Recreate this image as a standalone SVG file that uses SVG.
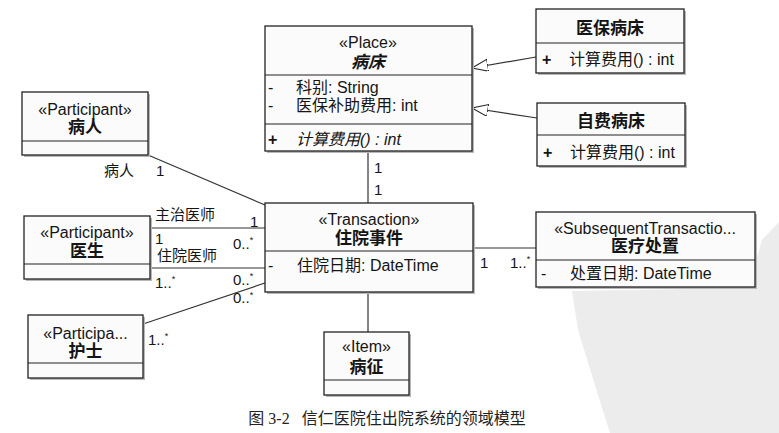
<svg xmlns="http://www.w3.org/2000/svg" width="779" height="433" viewBox="0 0 779 433">
<style>
.bg{fill:#ffffff}
.box{fill:#fbfbfb;stroke:#222;stroke-width:1.3}
.sh{fill:#b8b8b8}
.div{stroke:#222;stroke-width:1.2}
.ln{stroke:#333;stroke-width:1.2;fill:none}
.t{font-family:"Liberation Sans","Noto Sans CJK SC",sans-serif;font-size:16px;fill:#151515}
.c{text-anchor:middle}
.b{font-weight:bold;font-size:17px}
.i{font-style:italic}
.m{font-size:15px}
.star{font-size:9px}
.cap{font-family:"Liberation Serif","Noto Sans CJK SC",serif;font-size:16px;fill:#222;text-anchor:middle}
</style>
<defs>
<marker id="gen" markerUnits="userSpaceOnUse" markerWidth="18" markerHeight="14" refX="16" refY="6" orient="auto">
<path d="M0,0 L16,6 L0,12 Z" fill="#fff" stroke="#222" stroke-width="1.1"/>
</marker>
</defs>
<rect class="bg" x="0" y="0" width="779" height="433"/>
<path d="M779,222 L762,240 L748,288 L572,291 L578,330 L598,395 L610,433 L779,433 Z" fill="#ececec"/>

<g id="connectors">
<line class="ln" x1="148" y1="155" x2="265" y2="205"/>
<line class="ln" x1="368" y1="151" x2="368" y2="203"/>
<line class="ln" x1="150" y1="228" x2="265" y2="228"/>
<line class="ln" x1="150" y1="268" x2="265" y2="268"/>
<line class="ln" x1="143" y1="324" x2="265" y2="283"/>
<line class="ln" x1="473" y1="248" x2="536" y2="248"/>
<line class="ln" x1="368" y1="292" x2="368" y2="332"/>
<line class="ln" x1="536" y1="57" x2="472" y2="68" marker-end="url(#gen)"/>
<line class="ln" x1="537" y1="118" x2="472" y2="108" marker-end="url(#gen)"/>
<text class="t m" x="104" y="176">病人</text>
<text class="t m" x="156" y="176">1</text>
<text class="t m" x="374" y="173">1</text>
<text class="t m" x="374" y="195">1</text>
<text class="t m" x="155" y="220">主治医师</text>
<text class="t m" x="250" y="227">1</text>
<text class="t m" x="155" y="244">1</text>
<text class="t m" x="233" y="249">0..<tspan class="star" dy="-6">*</tspan></text>
<text class="t m" x="157" y="261">住院医师</text>
<text class="t m" x="155" y="288">1..<tspan class="star" dy="-6">*</tspan></text>
<text class="t m" x="233" y="285">0..<tspan class="star" dy="-6">*</tspan></text>
<text class="t m" x="233" y="303">0..<tspan class="star" dy="-5">*</tspan></text>
<text class="t m" x="148" y="345">1..<tspan class="star" dy="-6">*</tspan></text>
<text class="t m" x="480" y="268">1</text>
<text class="t m" x="510" y="268">1..<tspan class="star" dy="-6">*</tspan></text>
</g>

<g id="patient">
<rect class="sh" x="24" y="94" width="126" height="63"/>
<rect class="box" x="22" y="92" width="126" height="63"/>
<line class="div" x1="22" y1="141" x2="148" y2="141"/>
<text class="t c" x="85" y="115">«Participant»</text>
<text class="t c b" x="85" y="133">病人</text>
</g>

<g id="doctor">
<rect class="sh" x="26" y="218" width="126" height="63"/>
<rect class="box" x="24" y="216" width="126" height="63"/>
<line class="div" x1="24" y1="264" x2="150" y2="264"/>
<text class="t c" x="87" y="238">«Participant»</text>
<text class="t c b" x="87" y="257">医生</text>
</g>

<g id="nurse">
<rect class="sh" x="30" y="317" width="115" height="63"/>
<rect class="box" x="28" y="315" width="115" height="63"/>
<line class="div" x1="28" y1="363" x2="143" y2="363"/>
<text class="t c" x="85.5" y="339">«Participa...</text>
<text class="t c b" x="85.5" y="357">护士</text>
</g>

<g id="bed">
<rect class="sh" x="267" y="28" width="207" height="125"/>
<rect class="box" x="265" y="26" width="207" height="125"/>
<line class="div" x1="265" y1="75" x2="472" y2="75"/>
<line class="div" x1="265" y1="124" x2="472" y2="124"/>
<text class="t c" x="368" y="48">«Place»</text>
<text class="t c b i" x="368" y="68">病床</text>
<text class="t" x="268" y="93">-</text>
<text class="t" x="296" y="93">科别: String</text>
<text class="t" x="268" y="111">-</text>
<text class="t" x="296" y="111">医保补助费用: int</text>
<text class="t" x="268" y="145" font-weight="bold">+</text>
<text class="t i" x="296" y="145">计算费用() : int</text>
</g>

<g id="insuredBed">
<rect class="sh" x="538" y="11" width="148" height="64"/>
<rect class="box" x="536" y="9" width="148" height="64"/>
<line class="div" x1="536" y1="43" x2="684" y2="43"/>
<text class="t c b" x="610" y="34">医保病床</text>
<text class="t" x="542" y="65" font-weight="bold">+</text>
<text class="t" x="569" y="65">计算费用() : int</text>
</g>

<g id="selfPaidBed">
<rect class="sh" x="539" y="105" width="148" height="63"/>
<rect class="box" x="537" y="103" width="148" height="63"/>
<line class="div" x1="537" y1="135" x2="685" y2="135"/>
<text class="t c b" x="611" y="127">自费病床</text>
<text class="t" x="543" y="158" font-weight="bold">+</text>
<text class="t" x="570" y="158">计算费用() : int</text>
</g>

<g id="admission">
<rect class="sh" x="267" y="205" width="208" height="89"/>
<rect class="box" x="265" y="203" width="208" height="89"/>
<line class="div" x1="265" y1="251" x2="473" y2="251"/>
<text class="t c" x="369" y="225">«Transaction»</text>
<text class="t c b" x="369" y="244">住院事件</text>
<text class="t" x="268" y="271">-</text>
<text class="t" x="297" y="271">住院日期: DateTime</text>
</g>

<g id="treatment">
<rect class="sh" x="538" y="214" width="219" height="75"/>
<rect class="box" x="536" y="212" width="219" height="75"/>
<line class="div" x1="536" y1="260" x2="755" y2="260"/>
<text class="t c" x="645" y="234">«SubsequentTransactio...</text>
<text class="t c b" x="645" y="252">医疗处置</text>
<text class="t" x="541" y="279">-</text>
<text class="t" x="570" y="279">处置日期: DateTime</text>
</g>

<g id="symptom">
<rect class="sh" x="326" y="334" width="85" height="63"/>
<rect class="box" x="324" y="332" width="85" height="63"/>
<line class="div" x1="324" y1="380" x2="409" y2="380"/>
<text class="t c" x="366.5" y="352">«Item»</text>
<text class="t c b" x="366.5" y="373">病征</text>
</g>

<text class="cap" x="387" y="424" xml:space="preserve">图 3-2   信仁医院住出院系统的领域模型</text>
</svg>
